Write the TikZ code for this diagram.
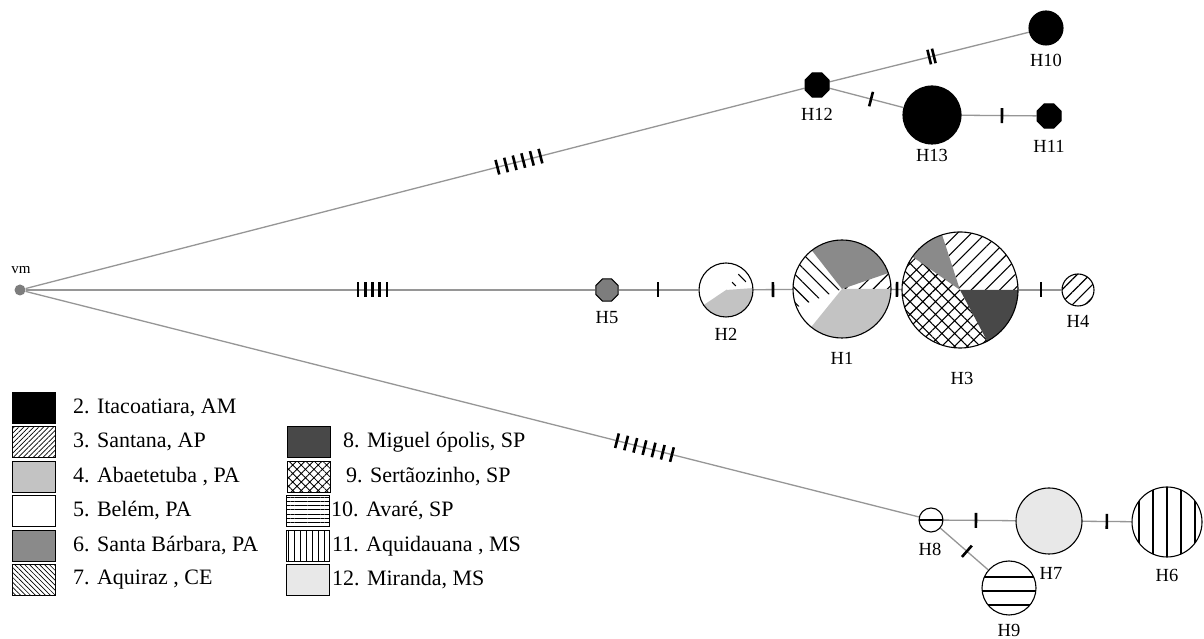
\documentclass[tikz,border=0pt]{standalone}
\usepackage{fontspec}
\setmainfont{Liberation Serif}
\usetikzlibrary{shapes.geometric,patterns.meta,backgrounds}
\definecolor{edgegray}{RGB}{150,150,150}
\definecolor{abgray}{RGB}{195,195,195}
\definecolor{sbgray}{RGB}{138,138,138}
\definecolor{migray}{RGB}{72,72,72}
\definecolor{mirgray}{RGB}{232,232,232}
\definecolor{vmgray}{RGB}{125,125,125}
\newcommand\pieW[3]{\path[#3] (path picture bounding box.center) -- ++(#1:90) arc[start angle=#1,end angle=#2,radius=90] -- cycle;}
\newcommand\hashmarks[5]{\foreach \k in {1,...,#5}{\pgfmathsetmacro\pp{#3+(\k-1)*#4}\path (#1.center) -- (#2.center) node[tk,pos=\pp]{};}}
\tikzset{
 edge/.style={draw=edgegray, line width=1.3pt},
 tk/.style={rectangle, fill=black, draw=none, minimum width=2.6pt, minimum height=15pt, inner sep=0pt, outer sep=0pt, sloped},
 hap/.style={circle, draw=black, line width=1.1pt, inner sep=0pt},
 oct/.style={regular polygon, regular polygon sides=8, draw=black, line width=1pt, inner sep=0pt},
 lbl/.style={font=\fontsize{18.5}{20}\selectfont, inner sep=0pt},
 legbox/.style={rectangle, draw=black, line width=1.8pt, minimum width=43pt, minimum height=31pt, inner sep=0pt},
 legtxt/.style={anchor=west, font=\fontsize{22}{24}\selectfont, inner sep=0pt},
 santanaP/.style={pattern={Lines[angle=45,distance=10pt,line width=1.1pt]},pattern color=black},
 aquirazP/.style={pattern={Lines[angle=-45,distance=10pt,line width=1.1pt]},pattern color=black},
 sertaoP/.style={pattern={Hatch[angle=45,distance=9pt,line width=1.1pt]},pattern color=black},
 santanaL/.style={pattern={Lines[angle=45,distance=3.5pt,line width=0.7pt]},pattern color=black},
 aquirazL/.style={pattern={Lines[angle=-45,distance=3.5pt,line width=0.7pt]},pattern color=black},
 sertaoL/.style={pattern={Hatch[angle=45,distance=6pt,line width=0.8pt]},pattern color=black},
 avareL/.style={pattern={Lines[angle=0,distance=4.3pt,line width=1pt]},pattern color=black},
 aquidL/.style={pattern={Lines[angle=90,distance=6pt,line width=1pt]},pattern color=black},
}
\begin{document}
\begin{tikzpicture}[x=1pt,y=1pt]
\useasboundingbox (0,0) rectangle (1204,639);
% nodes
\node[circle, fill=vmgray, minimum size=11pt, inner sep=0pt] (vm) at (20,349) {};
\node[oct, fill=vmgray, minimum size=24pt] (H5) at (607,349) {};
\node[hap, minimum size=54pt, path picture={
  \pieW{214}{364}{fill=abgray}
  \pieW{22}{52}{aquirazP}
 }] (H2) at (726,349) {};
\node[hap, minimum size=98pt, path picture={
  \pieW{19}{128}{fill=sbgray}
  \pieW{128}{202}{aquirazP}
  \pieW{231}{360}{fill=abgray}
  \pieW{0}{19}{santanaP}
 }] (H1) at (842,350) {};
\node[hap, minimum size=116pt, path picture={
  \pieW{0}{108}{santanaP}
  \pieW{108}{145}{fill=sbgray}
  \pieW{145}{298}{sertaoP}
  \pieW{298}{360}{fill=migray}
 }] (H3) at (960,349) {};
\node[hap, minimum size=32pt, pattern={Lines[angle=45,distance=9pt,line width=1.1pt]}, pattern color=black] (H4) at (1078,349) {};
\node[oct, fill=black, minimum size=26pt] (H12) at (817,554) {};
\node[hap, fill=black, minimum size=34pt] (H10) at (1046,611) {};
\node[hap, fill=black, minimum size=58pt] (H13) at (932,524) {};
\node[oct, fill=black, minimum size=26pt] (H11) at (1049,523) {};
\node[hap, minimum size=24pt, path picture={
  \draw[line width=1.2pt] ([xshift=-20pt]path picture bounding box.center) -- ++(40,0);
 }] (H8) at (931,119) {};
\node[hap, fill=mirgray, minimum size=66pt] (H7) at (1049,118) {};
\node[hap, minimum size=70pt, path picture={
  \foreach \d in {-28,-14,14,28}{\draw[line width=1.3pt] ([xshift=\d pt, yshift=-40pt]path picture bounding box.center) -- ++(0,80);}
  \draw[line width=2.2pt] ([yshift=-40pt]path picture bounding box.center) -- ++(0,80);
 }] (H6) at (1167,117) {};
\node[hap, minimum size=54pt, path picture={
  \draw[line width=1.3pt] ([xshift=-30pt, yshift=11pt]path picture bounding box.center) -- ++(60,0);
  \draw[line width=2.2pt] ([xshift=-30pt, yshift=-3pt]path picture bounding box.center) -- ++(60,0);
  \draw[line width=1.3pt] ([xshift=-30pt, yshift=-17pt]path picture bounding box.center) -- ++(60,0);
 }] (H9) at (1009,51) {};
% labels
\node[font=\fontsize{15}{16}\selectfont, inner sep=0pt] (vml) at (21,369) {vm};
\node[lbl] (H5l) at (607,321) {H5};
\node[lbl] (H2l) at (726,305) {H2};
\node[lbl] (H1l) at (842,281) {H1};
\node[lbl] (H3l) at (962,261) {H3};
\node[lbl] (H4l) at (1078,318) {H4};
\node[lbl] (H12l) at (817,525) {H12};
\node[lbl] (H10l) at (1046,579) {H10};
\node[lbl] (H13l) at (932,484) {H13};
\node[lbl] (H11l) at (1049,493) {H11};
\node[lbl] (H8l) at (930,90) {H8};
\node[lbl] (H7l) at (1051,66) {H7};
\node[lbl] (H6l) at (1167,64) {H6};
\node[lbl] (H9l) at (1009,9) {H9};
% edges
\begin{scope}[on background layer]
\fill[white] (0,0) rectangle (1204,639);
\draw[edge] (vm) -- (H12);
\draw[edge] (H12) -- (H10);
\draw[edge] (H12) -- (H13);
\draw[edge] (H13) -- (H11);
\draw[edge] (vm) -- (H5);
\draw[edge] (H5) -- (H2);
\draw[edge] (H2) -- (H1);
\draw[edge] (H1) -- (H3);
\draw[edge] (H3) -- (H4);
\draw[edge] (vm) -- (H8);
\draw[edge] (H8) -- (H7);
\draw[edge] (H7) -- (H6);
\draw[edge] (H8) -- (H9);
\end{scope}
% mutation marks
\hashmarks{vm}{H12}{0.599}{0.0108}{6}
\hashmarks{H12}{H10}{0.49}{0.02}{2}
\hashmarks{vm}{H5}{0.5758}{0.01235}{5}
\hashmarks{H5}{H2}{0.4286}{0}{1}
\hashmarks{H2}{H1}{0.405}{0}{1}
\hashmarks{H1}{H3}{0.466}{0}{1}
\hashmarks{H3}{H4}{0.686}{0}{1}
\hashmarks{vm}{H8}{0.6553}{0.01006}{7}
\hashmarks{H8}{H7}{0.381}{0}{1}
\hashmarks{H7}{H6}{0.49}{0}{1}
\hashmarks{H8}{H9}{0.46}{0}{1}
\hashmarks{H12}{H13}{0.47}{0}{1}
\hashmarks{H13}{H11}{0.598}{0}{1}
% legend
\node[legbox, fill=black] (L2) at (34,231) {};
\node[legtxt] (T2) at (73,231) {2. Itacoatiara, AM};
\node[legbox, santanaL] (L3) at (34,197) {};
\node[legtxt] (T3) at (73,197) {3. Santana, AP};
\node[legbox, fill=abgray] (L4) at (34,162) {};
\node[legtxt] (T4) at (73,162) {4. Abaetetuba , PA};
\node[legbox, fill=white] (L5) at (34,128) {};
\node[legtxt] (T5) at (73,128) {5. Belém, PA};
\node[legbox, fill=sbgray] (L6) at (34,93) {};
\node[legtxt] (T6) at (73,93) {6. Santa Bárbara, PA};
\node[legbox, aquirazL] (L7) at (34,59) {};
\node[legtxt] (T7) at (73,59) {7. Aquiraz , CE};
\node[legbox, fill=migray] (L8) at (309,197) {};
\node[legtxt] (T8) at (343,197) {8. Miguel ópolis, SP};
\node[legbox, sertaoL] (L9) at (309,162) {};
\node[legtxt] (T9) at (346,162) {9. Sertãozinho, SP};
\node[legbox, avareL] (L10) at (308,128) {};
\node[legtxt] (T10) at (331,128) {10. Avaré, SP};
\node[legbox, aquidL] (L11) at (308,93) {};
\node[legtxt] (T11) at (332,93) {11. Aquidauana , MS};
\node[legbox, fill=mirgray] (L12) at (308,59) {};
\node[legtxt] (T12) at (332,59) {12. Miranda, MS};
\end{tikzpicture}
\end{document}
